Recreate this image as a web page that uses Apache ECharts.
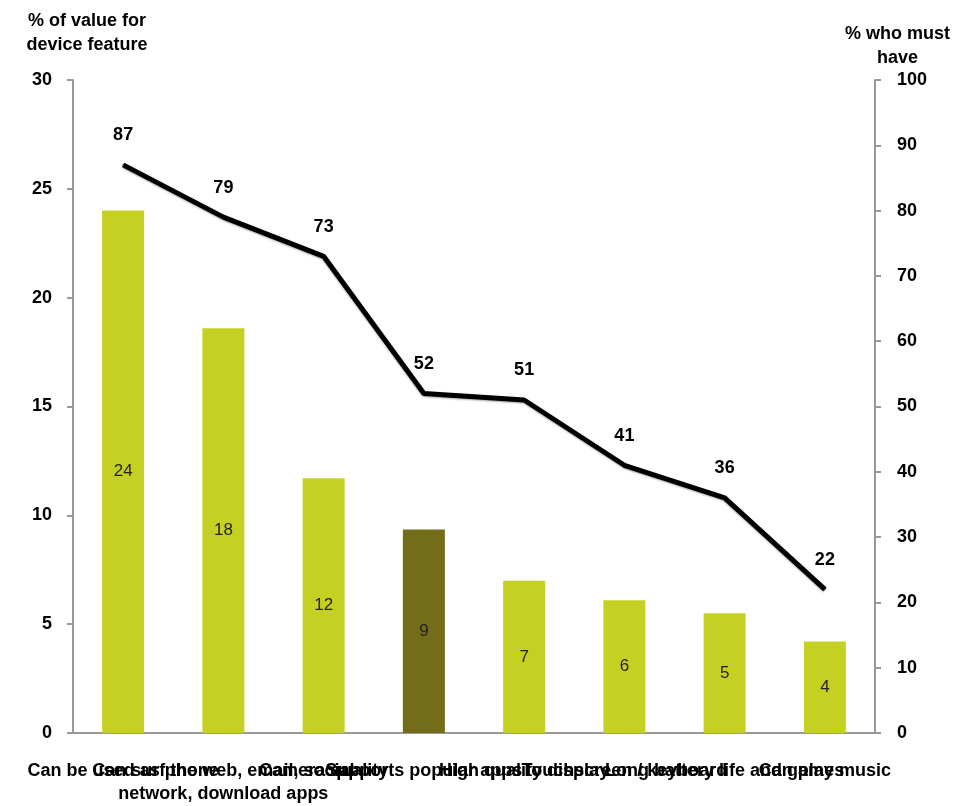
<!DOCTYPE html>
<html><head><meta charset="utf-8">
<script src="https://cdn.jsdelivr.net/npm/echarts@6/dist/echarts.min.js"></script>
<style>html,body{margin:0;padding:0;background:#fff}#c{width:977px;height:806px}</style>
</head><body><div id="c"></div>
<script>
const categories = [
  "Can be used as phone",
  "Can surf the web, email, social\nnetwork, download apps",
  "Camera quality",
  "Supports popular apps",
  "High quality display",
  "Touchscreen / keyboard",
  "Long battery life and games",
  "Can play music"
];
const barValues = [24, 18.6, 11.7, 9.35, 7.0, 6.1, 5.5, 4.2];
const barLabels = ["24", "18", "12", "9", "7", "6", "5", "4"];
const lineValues = [87, 79, 73, 52, 51, 41, 36, 22];
const leftTicks = [0, 5, 10, 15, 20, 25, 30];
const rightTicks = [0, 10, 20, 30, 40, 50, 60, 70, 80, 90, 100];

const light = '#c5d122', dark = '#736d1a';
const font = 'Liberation Sans, Arial, sans-serif';

const chart = echarts.init(document.getElementById('c'));
chart.setOption({
  animation: false,
  backgroundColor: '#fff',
  grid: { left: 73, right: 102, top: 80, bottom: 73, containLabel: false, outerBoundsMode: 'none' },
  xAxis: {
    type: 'category', data: categories,
    axisLine: { lineStyle: { color: '#999', width: 2 } },
    axisTick: { show: false },
    axisLabel: { interval: 0, hideOverlap: false, color: '#000', fontFamily: font, fontSize: 18, margin: 27, lineHeight: 23, fontWeight: 'bold' }
  },
  yAxis: [{
    type: 'value', min: leftTicks[0], max: leftTicks[leftTicks.length - 1], interval: 5,
    name: '% of value for\ndevice feature', nameLocation: 'end', nameGap: 23,
    nameTextStyle: { color: '#000', fontFamily: font, fontSize: 18, fontWeight: 'bold', align: 'center', lineHeight: 24, padding: [0, 0, 0, 28] },
    axisLine: { show: true, lineStyle: { color: '#999', width: 2 } },
    axisTick: { show: true, length: 6, lineStyle: { color: '#999', width: 2 } },
    splitLine: { show: false },
    axisLabel: { color: '#000', fontFamily: font, fontSize: 18, fontWeight: 'bold', margin: 21 }
  }, {
    type: 'value', min: rightTicks[0], max: rightTicks[rightTicks.length - 1], interval: 10,
    name: '% who must\nhave', nameLocation: 'end', nameGap: 10,
    nameTextStyle: { color: '#000', fontFamily: font, fontSize: 18, fontWeight: 'bold', align: 'center', lineHeight: 24, padding: [0, 0, 0, 45] },
    axisLine: { show: true, lineStyle: { color: '#999', width: 2 } },
    axisTick: { show: true, length: 6, lineStyle: { color: '#999', width: 2 } },
    splitLine: { show: false },
    axisLabel: { color: '#000', fontFamily: font, fontSize: 18, fontWeight: 'bold', margin: 22 }
  }],
  series: [{
    type: 'bar', yAxisIndex: 0, barWidth: 42,
    data: barValues.map((v, i) => ({ value: v, itemStyle: { color: i === 3 ? dark : light } })),
    label: { show: true, position: 'inside', color: '#222', fontFamily: font, fontSize: 17,
      formatter: p => barLabels[p.dataIndex] }
  }, {
    type: 'line', yAxisIndex: 1, data: lineValues,
    symbol: 'circle', symbolSize: 1, showSymbol: true, z: 5,
    itemStyle: { color: '#000' },
    lineStyle: { color: '#000', width: 5, shadowColor: 'rgba(0,0,0,0.35)', shadowBlur: 2, shadowOffsetY: 1 },
    label: { show: true, position: 'top', distance: 20, color: '#000', fontFamily: font, fontSize: 18, fontWeight: 'bold' }
  }]
});
</script></body></html>
